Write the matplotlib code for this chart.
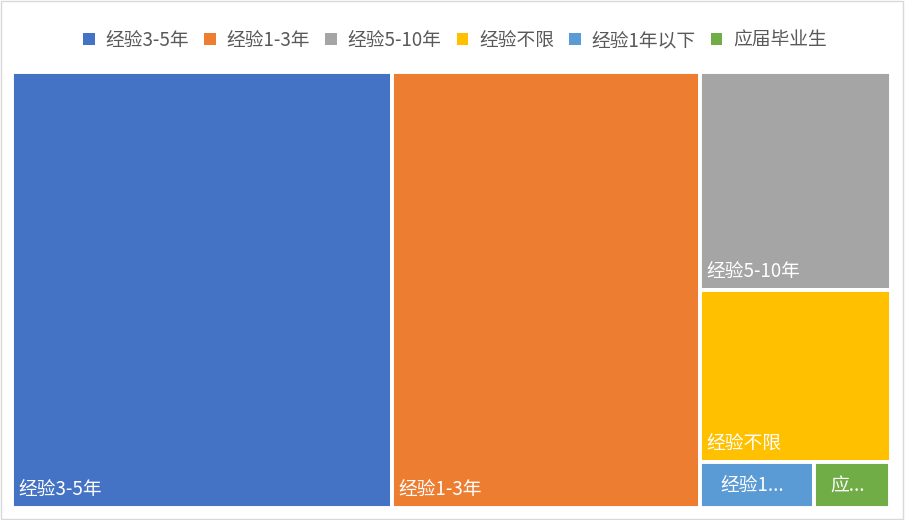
import matplotlib
matplotlib.use("Agg")
import matplotlib.pyplot as plt
from matplotlib.patches import Rectangle, Patch

plt.rcParams['font.family'] = ['Noto Sans CJK SC', 'DejaVu Sans']

# data: job postings by required experience
categories = ["经验3-5年", "经验1-3年", "经验5-10年", "经验不限", "经验1年以下", "应届毕业生"]
counts = [476, 385, 120, 94, 15, 10]
# labels as shown inside the tiles (the small ones are cut off)
tile_labels = ["经验3-5年", "经验1-3年", "经验5-10年", "经验不限", "经验1...", "应..."]
colors = ["#4472C4", "#ED7D31", "#A5A5A5", "#FFC000", "#5B9BD5", "#70AD47"]


def worst(row, side):
    s = sum(row)
    return max(max(side * side * r / (s * s), (s * s) / (side * side * r)) for r in row)


def squarify(sizes, x, y, w, h):
    """squarified treemap, y grows downward"""
    rects = []
    sizes = list(sizes)
    while sizes:
        short = min(w, h)
        row = [sizes[0]]
        i = 1
        while i < len(sizes) and worst(row + [sizes[i]], short) <= worst(row, short):
            row.append(sizes[i])
            i += 1
        s = sum(row)
        if w >= h:
            cw = s / h
            yy = y
            for r in row:
                rh = r / cw
                rects.append((x, yy, cw, rh))
                yy += rh
            x += cw
            w -= cw
        else:
            rh = s / w
            xx = x
            for r in row:
                rw = r / rh
                rects.append((xx, y, rw, rh))
                xx += rw
            y += rh
            h -= rh
        sizes = sizes[i:]
    return rects


W, H = 879.0, 436.0
fig = plt.figure(figsize=(9.05, 5.2), dpi=100)
ax = fig.add_axes([11.5 / 905, 12.5 / 520, W / 905, H / 520])
ax.set_xlim(0, W)
ax.set_ylim(H, 0)
ax.axis("off")

total = sum(counts)
areas = [c / total * W * H for c in counts]
rects = squarify(areas, 0, 0, W, H)

for (x, y, w, h), col, lab in zip(rects, colors, tile_labels):
    ax.add_patch(Rectangle((x, y), w, h, facecolor=col, edgecolor="white", linewidth=2.8))
    if h > 80:
        ax.text(x + 7, y + h - 8, lab, color="white", fontsize=13.5, ha="left", va="bottom")
    else:
        ax.text(x + w / 2 - 5, y + h / 2 + 1, lab, color="white", fontsize=13.5,
                ha="center", va="center")

handles = [Patch(facecolor=c, edgecolor="none") for c in colors]
fig.legend(handles, categories, loc="center", bbox_to_anchor=(0.503, 0.922), ncol=6,
           frameon=False, fontsize=13.5, handlelength=0.6, handleheight=0.6,
           handletextpad=0.6, columnspacing=0.8, labelcolor="#595959")

fig.patches.append(Rectangle((0.001, 0.001), 0.997, 0.997, transform=fig.transFigure,
                             fill=False, edgecolor="#D9D9D9", linewidth=1))

fig.savefig("out.png", dpi=100)
